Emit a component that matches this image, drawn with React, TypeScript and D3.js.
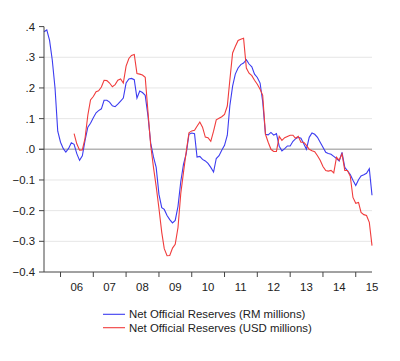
import * as d3 from 'd3'

const startMonth = new Date(2005, 6, 1)

// monthly values, 2005m7 .. 2015m7
const rmSeries = [
  0.383, 0.389, 0.355, 0.291, 0.199, 0.059, 0.023, 0.002, -0.009, 0.003,
  0.021, 0.016, -0.014, -0.036, -0.021, 0.029, 0.072, 0.085, 0.103, 0.119,
  0.126, 0.132, 0.16, 0.16, 0.154, 0.142, 0.139, 0.147, 0.157, 0.167,
  0.216, 0.229, 0.231, 0.227, 0.167, 0.19, 0.185, 0.176, 0.108, 0.02,
  -0.025, -0.059, -0.147, -0.19, -0.196, -0.216, -0.229, -0.24, -0.232, -0.186,
  -0.105, -0.049, -0.013, 0.049, 0.053, 0.051, -0.025, -0.023, -0.033, -0.038,
  -0.046, -0.059, -0.074, -0.03, -0.021, -0.003, 0.013, 0.046, 0.141, 0.206,
  0.245, 0.265, 0.276, 0.281, 0.292, 0.278, 0.269, 0.245, 0.234, 0.216,
  0.155, 0.049, 0.047, 0.055, 0.046, 0.051, 0.01, -0.005, 0.002, 0.011,
  0.011, 0.026, 0.034, 0.039, 0.036, 0.018, 0.0, 0.039, 0.053, 0.049,
  0.039, 0.023, 0.007, -0.01, -0.014, -0.016, -0.023, -0.03, -0.038, -0.01,
  -0.059, -0.07, -0.082, -0.101, -0.118, -0.099, -0.087, -0.083, -0.078, -0.063,
  -0.15,
]

const usdSeries: (number | null)[] = [
  null, null, null, null, null, null, null, null, null, null,
  null, 0.051, 0.018, -0.003, -0.002, 0.036, 0.111, 0.161, 0.172, 0.188,
  0.191, 0.203, 0.225, 0.224, 0.216, 0.204, 0.211, 0.225, 0.229, 0.216,
  0.271, 0.296, 0.306, 0.309, 0.247, 0.245, 0.242, 0.235, 0.121, 0.013,
  -0.059, -0.121, -0.193, -0.271, -0.324, -0.347, -0.346, -0.322, -0.31, -0.255,
  -0.144, -0.075, -0.007, 0.054, 0.06, 0.062, 0.075, 0.089, 0.072, 0.04,
  0.038, 0.026, 0.059, 0.096, 0.101, 0.106, 0.114, 0.141, 0.225, 0.314,
  0.335, 0.355, 0.359, 0.362, 0.265, 0.248, 0.24, 0.225, 0.212, 0.196,
  0.176, 0.049, 0.023, 0.0, -0.007, -0.007, 0.042, 0.029, 0.038, 0.042,
  0.046, 0.046, 0.036, 0.042, 0.023, 0.023, 0.013, 0.0, -0.005, -0.008,
  -0.021, -0.036, -0.056, -0.069, -0.071, -0.069, -0.077, -0.026, -0.036, -0.015,
  -0.069, -0.069, -0.088, -0.157, -0.176, -0.173, -0.206, -0.213, -0.216, -0.238,
  -0.314,
]

const yTicks = [0.4, 0.3, 0.2, 0.1, 0, -0.1, -0.2, -0.3, -0.4]
const yearLabels = ['06', '07', '08', '09', '10', '11', '12', '13', '14', '15']
const legendLabels = [
  'Net Official Reserves (RM millions)',
  'Net Official Reserves (USD millions)',
]
const colors = ['#3c3cf0', '#f03c3c']

const width = 400
const height = 361
const left = 44
const right = 372
const top = 26.6
const bottom = 272

const fmt = (v: number) => {
  const s = d3.format('.1f')(v)
  return s.replace(/^(-?)0\./, '$1.')
}

export default function App() {
  const dates = rmSeries.map((_, i) => d3.timeMonth.offset(startMonth, i))
  const x = d3
    .scaleTime()
    .domain([new Date(2005, 6, 1), new Date(2015, 6, 1)])
    .range([left, right])
  const y = d3.scaleLinear().domain([-0.4, 0.4]).range([bottom, top])

  const line = d3
    .line<number | null>()
    .defined((d) => d != null)
    .x((_, i) => x(dates[i]))
    .y((d) => y(d as number))

  const yearTicks = d3.range(2006, 2016).map((yr) => new Date(yr, 0, 1))

  return (
    <svg
      width={width}
      height={height}
      style={{ position: 'absolute', left: 0, top: 0 }}
      fontFamily="Liberation Sans, Arial, sans-serif"
    >
      <rect width={width} height={height} fill="#fff" />
      {yTicks
        .filter((t) => t !== 0 && Math.abs(t) < 0.35)
        .map((t) => (
          <line
            key={'g' + t}
            x1={left}
            x2={right}
            y1={y(t)}
            y2={y(t)}
            stroke="#e6e6e6"
            strokeWidth={1}
          />
        ))}
      <line
        x1={left - 5}
        x2={right}
        y1={y(0)}
        y2={y(0)}
        stroke="#b4b4b4"
        strokeWidth={1.4}
      />
      <path
        d={line(rmSeries) ?? undefined}
        fill="none"
        stroke={colors[0]}
        strokeWidth={1.1}
      />
      <path
        d={line(usdSeries) ?? undefined}
        fill="none"
        stroke={colors[1]}
        strokeWidth={1.1}
      />
      <line x1={left} x2={left} y1={top} y2={bottom} stroke="#444" />
      <line x1={left} x2={right} y1={bottom} y2={bottom} stroke="#444" />
      {yTicks.map((t) => (
        <g key={'y' + t}>
          <line x1={left - 5} x2={left} y1={y(t)} y2={y(t)} stroke="#444" />
          <text
            x={35}
            y={y(t)}
            dy="0.36em"
            textAnchor="end"
            fontSize={11.4}
            fill="#222"
          >
            {fmt(t)}
          </text>
        </g>
      ))}
      {yearTicks.map((d) => (
        <line
          key={'xt' + +d}
          x1={x(d)}
          x2={x(d)}
          y1={bottom}
          y2={bottom + 5}
          stroke="#444"
        />
      ))}
      {yearLabels.map((lab, i) => {
        const mid = new Date(2006 + i, 6, 1)
        return (
          <text
            key={'xl' + lab}
            x={x(mid)}
            y={291}
            textAnchor="middle"
            fontSize={11.4}
            fill="#222"
          >
            {lab}
          </text>
        )
      })}
      {legendLabels.map((lab, i) => (
        <g key={lab} transform={`translate(103,${314.3 + i * 13.4})`}>
          <line x1={0} x2={22} y1={0} y2={0} stroke={colors[i]} strokeWidth={1.1} />
          <text x={26} y={0} dy="0.36em" fontSize={11.4} fill="#222">
            {lab}
          </text>
        </g>
      ))}
    </svg>
  )
}
